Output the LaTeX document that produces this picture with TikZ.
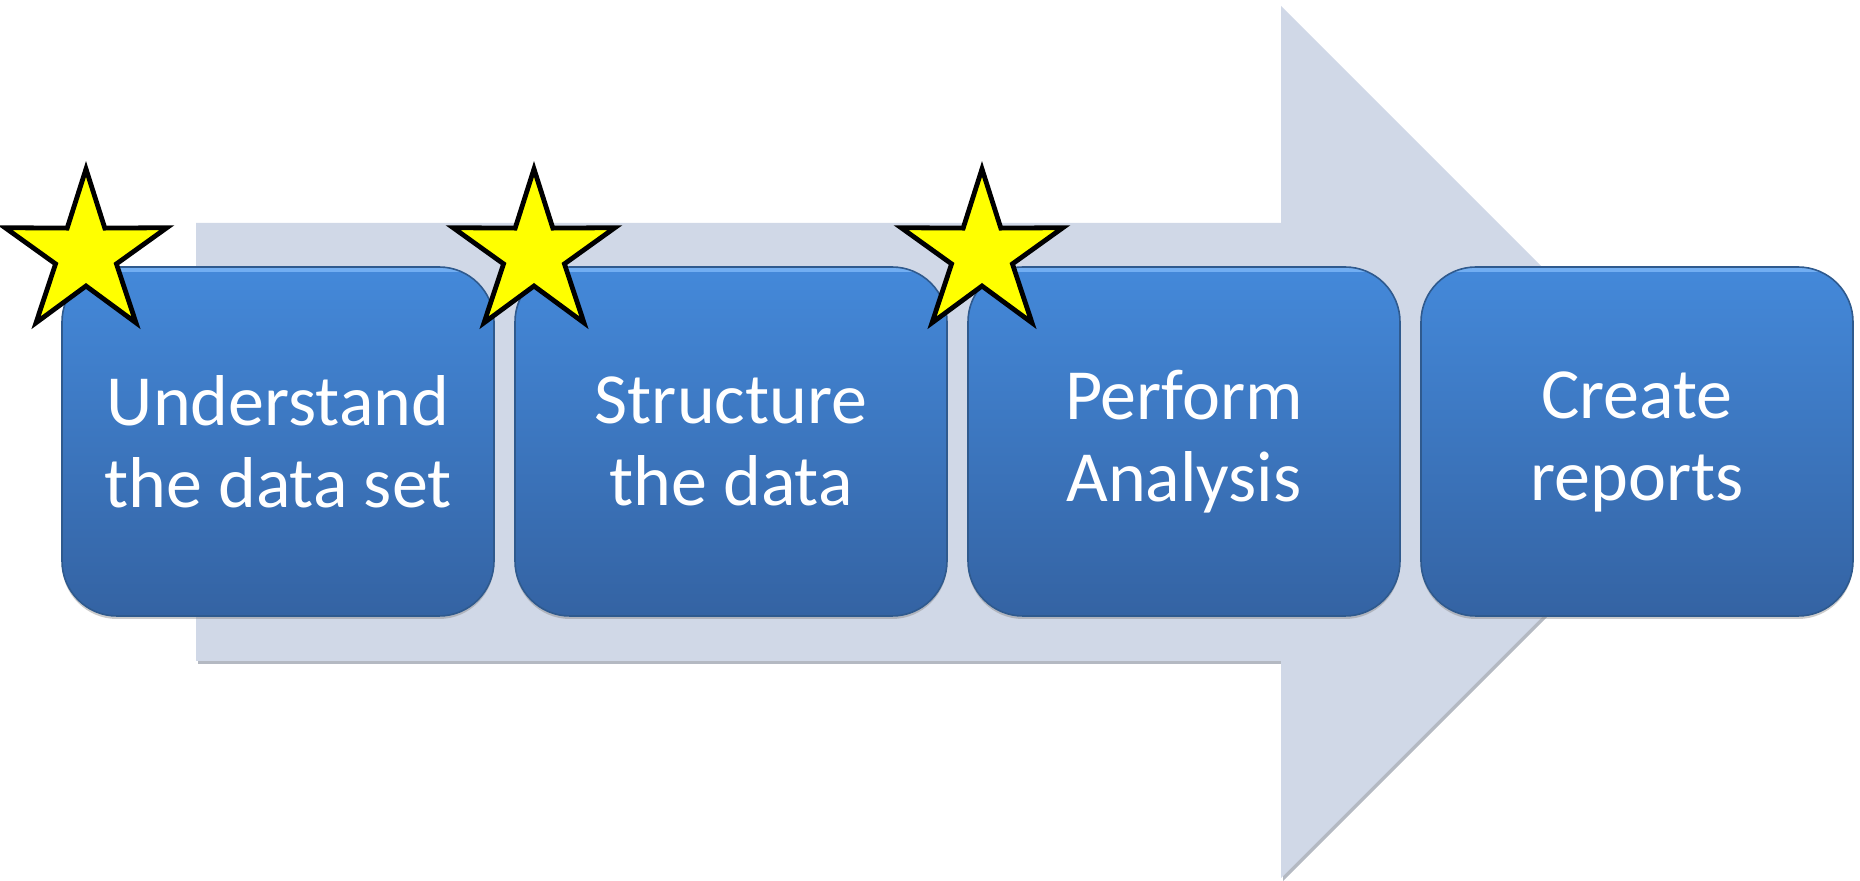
\documentclass[tikz,border=0pt]{standalone}
\usepackage{fontspec}
\setmainfont{Carlito}
\usetikzlibrary{shadows}
\definecolor{arrowfill}{HTML}{D0D8E7}
\definecolor{arrowshade}{HTML}{B4B9C2}
\definecolor{boxtop}{HTML}{4489DA}
\definecolor{boxbot}{HTML}{3463A3}
\definecolor{boxline}{HTML}{2F5A8E}
\definecolor{boxhi}{HTML}{72AEF2}
\definecolor{staryellow}{HTML}{FFFF00}
\tikzset{
  stepbox/.style={rounded corners=27.5pt, minimum width=216pt, minimum height=174.5pt,
    inner sep=0pt, top color=boxtop, bottom color=boxbot, draw=boxline, line width=0.8pt,
    text=white, align=center, font=\fontsize{36}{41}\selectfont,
    drop shadow={shadow xshift=0pt, shadow yshift=-1.5pt, opacity=0.4},
    path picture={\draw[boxhi, line width=3pt]
      ([yshift=-1pt]path picture bounding box.north west) -- ([yshift=-1pt]path picture bounding box.north east);}},
  starmark/.style={fill=staryellow, draw=black, line width=2.4pt, line join=miter}
}
\begin{document}
\begin{tikzpicture}[x=0.5pt, y=0.5pt]
\useasboundingbox (0,0) rectangle (1860,-881);
% big arrow (shadow + body)
\fill[arrowshade, shift={(2,-3)}] (196,-223) -- (1281,-223) -- (1281,-6) -- (1717,-442) -- (1281,-878) -- (1281,-661) -- (196,-661) -- cycle;
\fill[arrowfill] (196,-223) -- (1281,-223) -- (1281,-6) -- (1717,-442) -- (1281,-878) -- (1281,-661) -- (196,-661) -- cycle;
% step boxes
\node[stepbox] (s1) at (278,-441.5) {Understand\\the data set};
\node[stepbox] (s2) at (731,-441.5) {Structure\\the data};
\node[stepbox] (s3) at (1184,-441.5) {Perform\\Analysis};
\node[stepbox] (s4) at (1637,-441.5) {Create\\reports};
% stars
\foreach \cx in {86,534,982}{
  \draw[starmark, shift={(\cx,-254)}] (90:85) -- (126:32) -- (162:85) -- (198:32) -- (234:85)
    -- (270:32) -- (306:85) -- (342:32) -- (18:85) -- (54:32) -- cycle;
}
\end{tikzpicture}
\end{document}
